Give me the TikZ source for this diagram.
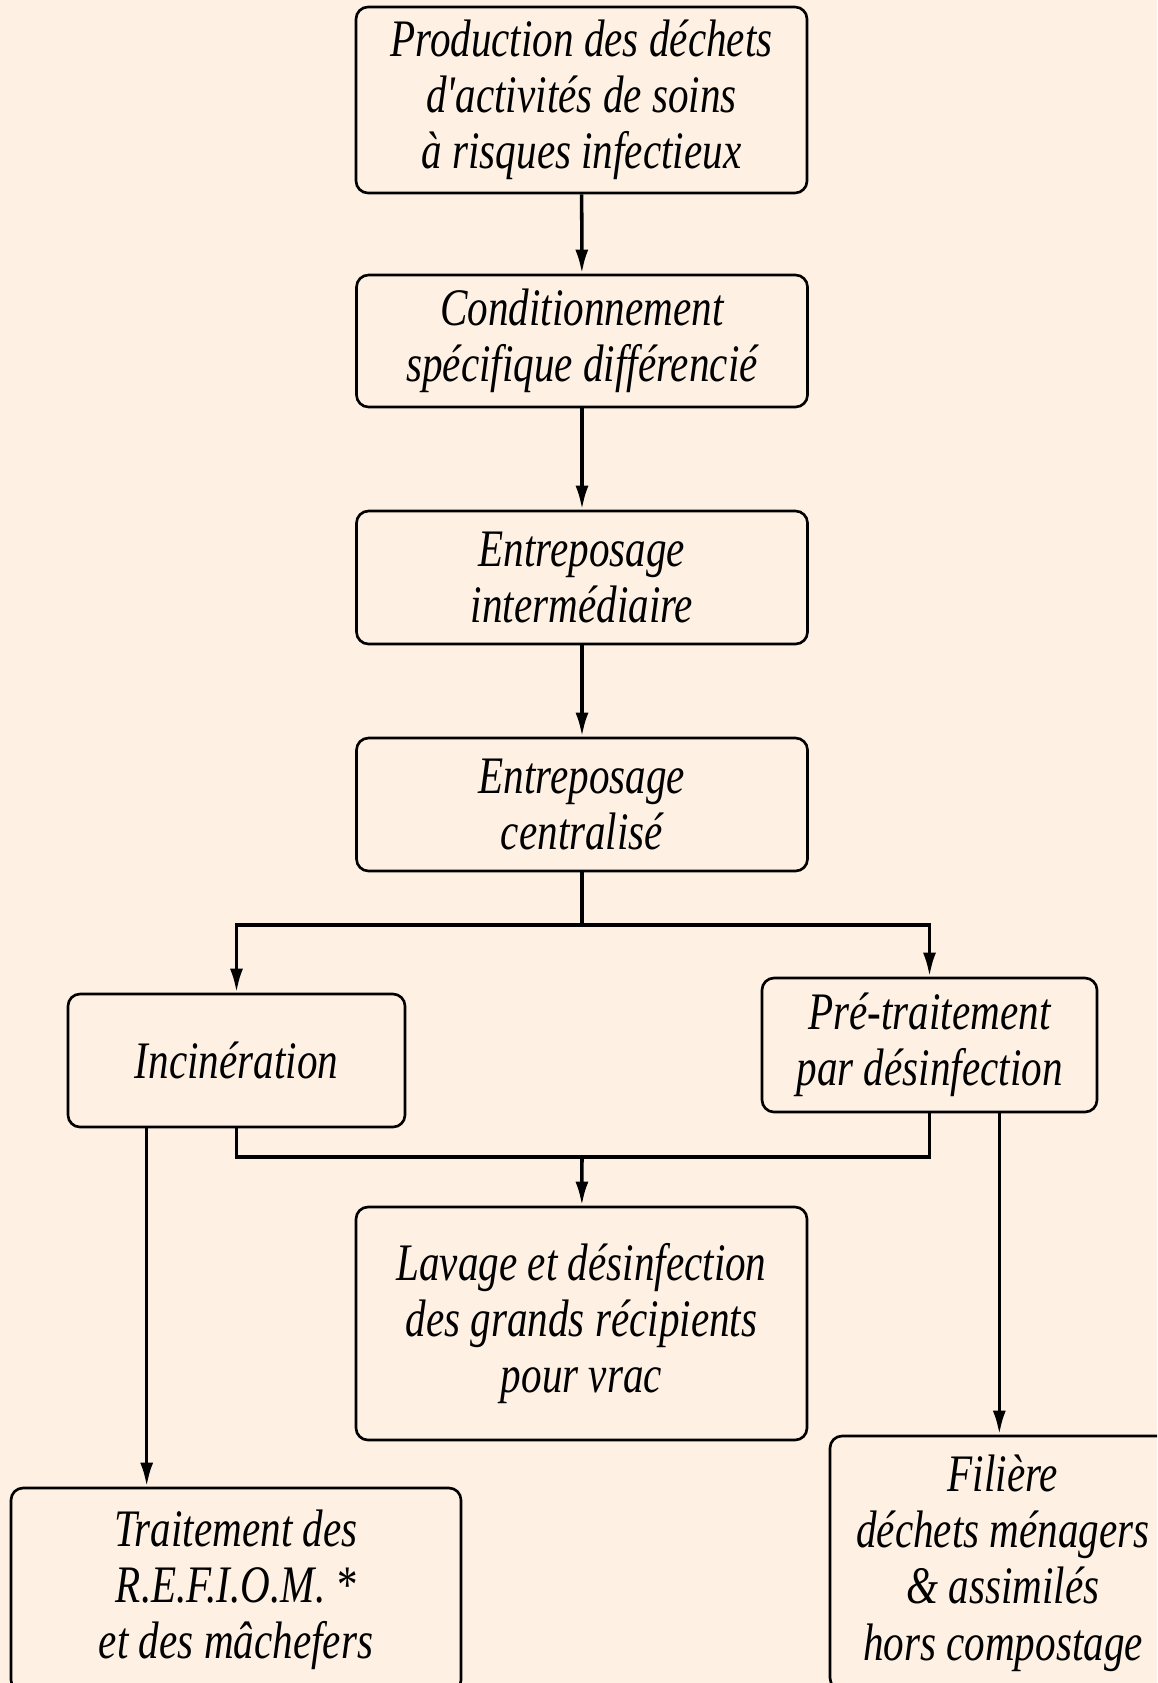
\documentclass[tikz,border=0pt]{standalone}
\usepackage{fontspec}
\newfontfamily\boxfont[FakeStretch=0.78]{Liberation Serif}
\usetikzlibrary{arrows.meta,calc}
\definecolor{cream}{RGB}{254,241,227}

\begin{document}
\begin{tikzpicture}[>={Latex[length=4.8mm,width=2.6mm]},line width=2pt,
    font=\boxfont\itshape\fontsize{30pt}{32pt}\selectfont,
    stage/.style={draw,line width=1.5pt,rounded corners=2.4mm,align=center,inner sep=0pt,
        minimum width=9.02cm,minimum height=2.66cm}]
  \fill[cream] (0,0) rectangle (23.14,-33.66);
  \clip (0,0) rectangle (23.14,-33.66);
  \node[stage,minimum height=3.72cm] (prod) at (11.63,-2.00) {Production des déchets\\d'activités de soins\\à risques infectieux};
  \node[stage,minimum height=2.64cm] (cond) at (11.64,-6.82) {Conditionnement\\spécifique différencié};
  \node[stage] (entint) at (11.64,-11.55) {Entreposage\\intermédiaire};
  \node[stage] (entcen) at (11.64,-16.09) {Entreposage\\centralisé};
  \node[stage,minimum width=6.74cm] (incin) at (4.73,-21.21) {Incinération};
  \node[stage,minimum width=6.70cm,minimum height=2.68cm] (pretrait) at (18.59,-20.90) {Pré-traitement\\par désinfection};
  \node[stage,minimum height=4.66cm] (lavage) at (11.63,-26.47) {Lavage et désinfection\\des grands récipients\\pour vrac};
  \node[stage,minimum width=9.00cm,minimum height=4.08cm] (refiom) at (4.72,-31.80) {Traitement des\\R.E.F.I.O.M. *\\et des mâchefers};
  \node[stage,minimum width=6.92cm,minimum height=5.08cm] (menagers) at (20.06,-31.26) {Filière\\déchets ménagers\\\& assimilés\\hors compostage};
  \coordinate (split) at (11.64,-18.50);
  \coordinate (merge) at (11.64,-23.14);
  \coordinate (incout) at ([xshift=1.6cm]incin.south west);
  \coordinate (preout) at ([xshift=-1.98cm]pretrait.south east);
  \draw[->] (prod) -- (cond);
  \draw[->] (cond) -- (entint);
  \draw[->] (entint) -- (entcen);
  \draw (entcen) -- (split);
  \draw[->] (split) -| (incin);
  \draw[->] (split) -| (pretrait);
  \draw (incin) |- (merge) -| (pretrait);
  \draw[->] (merge) -- (lavage);
  \draw[->] (incout) -- (incout |- refiom.north);
  \draw[->] (preout) -- (preout |- menagers.north);
\end{tikzpicture}
\end{document}
